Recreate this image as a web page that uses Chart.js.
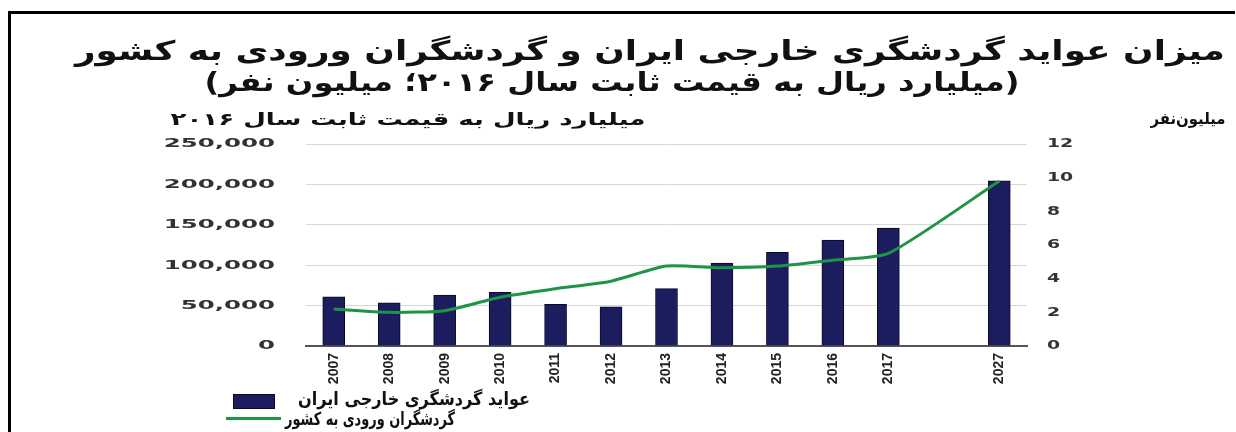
<!DOCTYPE html>
<html>
<head>
<meta charset="utf-8">
<script src="https://cdn.jsdelivr.net/npm/chart.js@4.4.1/dist/chart.umd.min.js"></script>
<style>
  body { margin: 0; background: #fff; }
  #wrap { position: relative; width: 1236px; height: 432px; overflow: hidden; }
  #frame { position: absolute; left: 8px; top: 11px; width: 1224px; height: 500px; border-left: 3px solid #000; border-top: 3px solid #000; }
  canvas { position: absolute; left: 0; top: 0; }
  .txt { position: absolute; white-space: nowrap; direction: rtl; font-family: 'DejaVu Sans', sans-serif;
         font-weight: bold; color: #111; transform-origin: 50% 50%; line-height: 1; }
  .swatch { position: absolute; left: 233px; top: 394px; width: 40px; height: 13px; background: #1b1d5e; border: 1px solid #0a0a26; }
  .lineKey { position: absolute; left: 226px; top: 417px; width: 55px; height: 3px; background: #1f9447; }
</style>
</head>
<body>
<div id="wrap">
  <div id="frame"></div>
  <canvas id="chart" width="1236" height="432"></canvas>
  <div class="txt" data-w="1150" style="left:650px;top:50px;font-size:27px;">میزان عواید گردشگری خارجی ایران و گردشگران ورودی به کشور</div>
  <div class="txt" data-w="815" style="left:612px;top:82px;font-size:26px;">(میلیارد ریال به قیمت ثابت سال ۲۰۱۶؛ میلیون نفر)</div>
  <div class="txt" data-w="475" style="left:408px;top:119px;font-size:17px;">میلیارد ریال به قیمت ثابت سال ۲۰۱۶</div>
  <div class="txt" data-w="75" style="left:1188px;top:119px;font-size:16px;">میلیون‌نفر</div>
  <div class="swatch"></div>
  <div class="txt" data-w="232" style="left:414px;top:399px;font-size:18px;">عواید گردشگری خارجی ایران</div>
  <div class="lineKey"></div>
  <div class="txt" data-w="170" style="left:370px;top:419px;font-size:18px;">گردشگران ورودی به کشور</div>
</div>
<script>
const years = ['2007', '2008', '2009', '2010', '2011', '2012', '2013', '2014', '2015', '2016', '2017', '', '2027'];
const revenue = [61000, 53500, 63000, 66500, 51500, 48500, 71000, 102500, 116000, 131000, 146000, null, 204500];
const tourists = [2.2, 2.0, 2.1, 2.9, 3.4, 3.85, 4.75, 4.65, 4.75, 5.1, 5.5, null, 9.8];
const revenueTicks = [0, 50000, 100000, 150000, 200000, 250000];
const touristTicks = [0, 2, 4, 6, 8, 10, 12];

// the picture is stretched sideways, so the html labels are stretched to the widths they take there
document.querySelectorAll('.txt').forEach(el => {
  const w = el.getBoundingClientRect().width;
  el.style.transform = `translate(-50%, -50%) scaleX(${el.dataset.w / w})`;
});

// y tick labels: taken from the scales, drawn wide like in the picture
const wideTicks = {
  id: 'wideTicks',
  afterDraw(chart) {
    const ctx = chart.ctx;
    ctx.save();
    ctx.font = "bold 13px 'DejaVu Sans', sans-serif";
    ctx.fillStyle = '#333';
    ctx.textBaseline = 'middle';
    ['y', 'y1'].forEach(id => {
      const scale = chart.scales[id];
      const left = scale.position === 'left';
      const x = left ? scale.right - scale.options.ticks.padding : scale.left + scale.options.ticks.padding;
      ctx.textAlign = left ? 'right' : 'left';
      scale.ticks.forEach(t => {
        ctx.save();
        ctx.translate(x, scale.getPixelForValue(t.value));
        ctx.scale(left ? 1.88 : 1.45, 1);
        ctx.fillText(t.label, 0, 0);
        ctx.restore();
      });
    });
    ctx.restore();
  }
};

new Chart(document.getElementById('chart'), {
  type: 'bar',
  data: {
    labels: years,
    datasets: [
      {
        type: 'line',
        label: 'گردشگران ورودی به کشور',
        data: tourists,
        yAxisID: 'y1',
        borderColor: '#1f9447',
        borderWidth: 3,
        pointRadius: 0,
        tension: 0.2,
        spanGaps: true,
        order: 0
      },
      {
        label: 'عواید گردشگری خارجی ایران',
        data: revenue,
        yAxisID: 'y',
        backgroundColor: '#1b1d5e',
        borderColor: '#0a0a26',
        borderWidth: 1,
        barThickness: 22,
        order: 1
      }
    ]
  },
  options: {
    responsive: false,
    animation: false,
    layout: { padding: { top: 144, left: 100, right: 100, bottom: 41 } },
    plugins: {
      legend: { display: false },
      title: { display: false },
      tooltip: { enabled: false }
    },
    scales: {
      x: {
        offset: true,
        grid: { display: false, drawTicks: false },
        border: { display: true, color: '#555', width: 2 },
        ticks: {
          minRotation: 90,
          maxRotation: 90,
          autoSkip: false,
          padding: 7,
          color: '#222',
          font: { family: "'Liberation Sans Narrow', 'Liberation Sans', sans-serif", size: 14, weight: 'bold' }
        },
        afterFit(scale) { scale.height = 45; }
      },
      y: {
        position: 'left',
        min: revenueTicks[0],
        max: revenueTicks[revenueTicks.length - 1],
        afterBuildTicks(scale) { scale.ticks = revenueTicks.map(v => ({ value: v })); },
        grid: { color: '#d8d8d8', lineWidth: 1, drawTicks: false },
        border: { display: false },
        ticks: { display: false, padding: 31, callback: v => v.toLocaleString('en-US') },
        afterFit(scale) { scale.width = 206; }
      },
      y1: {
        position: 'right',
        min: touristTicks[0],
        max: touristTicks[touristTicks.length - 1],
        afterBuildTicks(scale) { scale.ticks = touristTicks.map(v => ({ value: v })); },
        grid: { drawOnChartArea: false, drawTicks: false },
        border: { display: false },
        ticks: { display: false, padding: 20 },
        afterFit(scale) { scale.width = 109; }
      }
    }
  },
  plugins: [wideTicks]
});
</script>
</body>
</html>
